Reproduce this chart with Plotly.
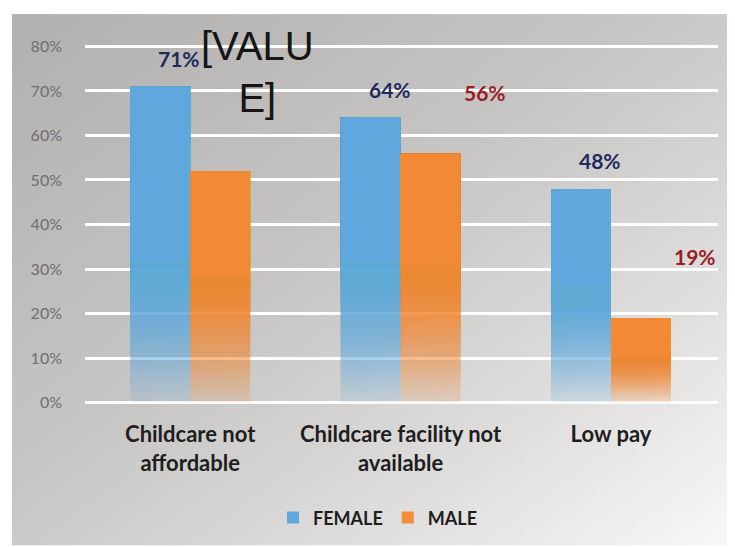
import base64
import plotly.graph_objects as go

categories = ["Childcare not<br>affordable", "Childcare facility not<br>available", "Low pay"]
female = [0.71, 0.64, 0.48]
male = [0.52, 0.56, 0.19]
female_labels = ["71%", "64%", "48%"]
male_labels = ["[VALU<br>E]", "56%", "19%"]
y_ticks = [0, 0.1, 0.2, 0.3, 0.4, 0.5, 0.6, 0.7, 0.8]
y_ticktext = ["0%", "10%", "20%", "30%", "40%", "50%", "60%", "70%", "80%"]

BLUE = (95, 167, 220)
ORANGE = (242, 142, 58)
FEM_TXT = "#1f2b5e"
MALE_TXT = "#9a1d26"

# page has an 8px body margin, so the figure is 8px smaller than the window
W, H = 727, 539
ML, MR, MT, MB = 77, 17, 34, 139

fig = go.Figure()

# each bar: solid upper part, translucent fading lower part (style only)
N = 60
A_TOP = 0.997
A0 = 0.08
P = 1.6
a = 1 - (1 - A_TOP) ** (1 / N)
for name, vals, rgb, grp in (("FEMALE", female, BLUE, "F"), ("MALE", male, ORANGE, "M")):
    tops = [min(0.32, 0.55 * v) for v in vals]
    fig.add_trace(go.Bar(name=name, x=categories, base=tops,
                         y=[v - t for v, t in zip(vals, tops)],
                         marker_color="rgb(%d,%d,%d)" % rgb, marker_line_width=0,
                         offsetgroup=grp, legendgroup=grp))
    for j in range(1, N + 1):
        A_prev = 1 - (1 - a) ** (j - 1)
        s = min(1.0, max(0.0, (A_prev - A0) / (1 - A0)))
        f = 1 - (1 - s) ** (1 / P)
        bases = [t * f for t in tops]
        fig.add_trace(go.Bar(
            x=categories, base=bases,
            y=[v - b for v, b in zip(vals, bases)],
            marker_color="rgba(%d,%d,%d,%.4f)" % (rgb + (a,)),
            marker_line_width=0, offsetgroup=grp, legendgroup=grp,
            showlegend=False, hoverinfo="skip"))

for i, c in enumerate(categories):
    fig.add_annotation(x=c, y=female[i], text=female_labels[i], showarrow=False,
                       xshift=-11, yshift=28,
                       font=dict(family="Lato", size=21, color=FEM_TXT, weight="bold"))
for i, c in enumerate(categories):
    if i == 0:
        fig.add_annotation(x=c, y=male[i], text=male_labels[i], showarrow=False,
                           xshift=67, yshift=99,
                           font=dict(family="Liberation Sans", size=40, color="#151515"))
    else:
        fig.add_annotation(x=c, y=male[i], text=male_labels[i], showarrow=False,
                           xshift=84, yshift=61,
                           font=dict(family="Lato", size=21, color=MALE_TXT, weight="bold"))

svg = (
    '<svg xmlns="http://www.w3.org/2000/svg" width="100" height="100" preserveAspectRatio="none">'
    '<defs><linearGradient id="g" x1="0" y1="0" x2="1" y2="1">'
    '<stop offset="0" stop-color="#b2b0ae"/>'
    '<stop offset="0.45" stop-color="#c8c6c4"/>'
    '<stop offset="0.75" stop-color="#e0dfde"/>'
    '<stop offset="1" stop-color="#f8f8f8"/>'
    '</linearGradient></defs>'
    '<rect width="100" height="100" fill="url(#g)"/></svg>'
)
src = "data:image/svg+xml;base64," + base64.b64encode(svg.encode()).decode()
pw, ph = W - ML - MR, H - MT - MB
x0 = (4 - ML) / pw
x1 = (W - ML) / pw
ytop = (H - MB - 6) / ph
ybot = (H - MB - H) / ph
fig.add_layout_image(source=src, xref="paper", yref="paper", x=x0, y=ytop,
                     sizex=x1 - x0, sizey=ytop - ybot, sizing="stretch",
                     xanchor="left", yanchor="top", layer="below")

fig.update_layout(
    width=W, height=H,
    margin=dict(l=ML, r=MR, t=MT, b=MB),
    paper_bgcolor="white", plot_bgcolor="rgba(0,0,0,0)",
    barmode="group", bargap=0.43, bargroupgap=0,
    showlegend=True,
    legend=dict(orientation="h", x=0.297, xanchor="left", y=-0.30, yanchor="middle",
                font=dict(family="Lato", size=18, color="#1e1e1e", weight="bold"),
                bgcolor="rgba(0,0,0,0)", traceorder="normal"),
    xaxis=dict(showgrid=False, showline=False, zeroline=False, ticks="",
               ticklabelstandoff=12,
               tickfont=dict(family="Lato", size=22, color="#1e1e1e", weight="bold")),
    yaxis=dict(range=[-0.01, 0.81], tickvals=y_ticks, ticktext=y_ticktext,
               showgrid=True, gridcolor="white", gridwidth=3, zeroline=False,
               showline=False, ticks="", ticklabelstandoff=22,
               tickfont=dict(family="Lato", size=16, color="#6e6e6e")),
)

fig.write_html("out.html")
